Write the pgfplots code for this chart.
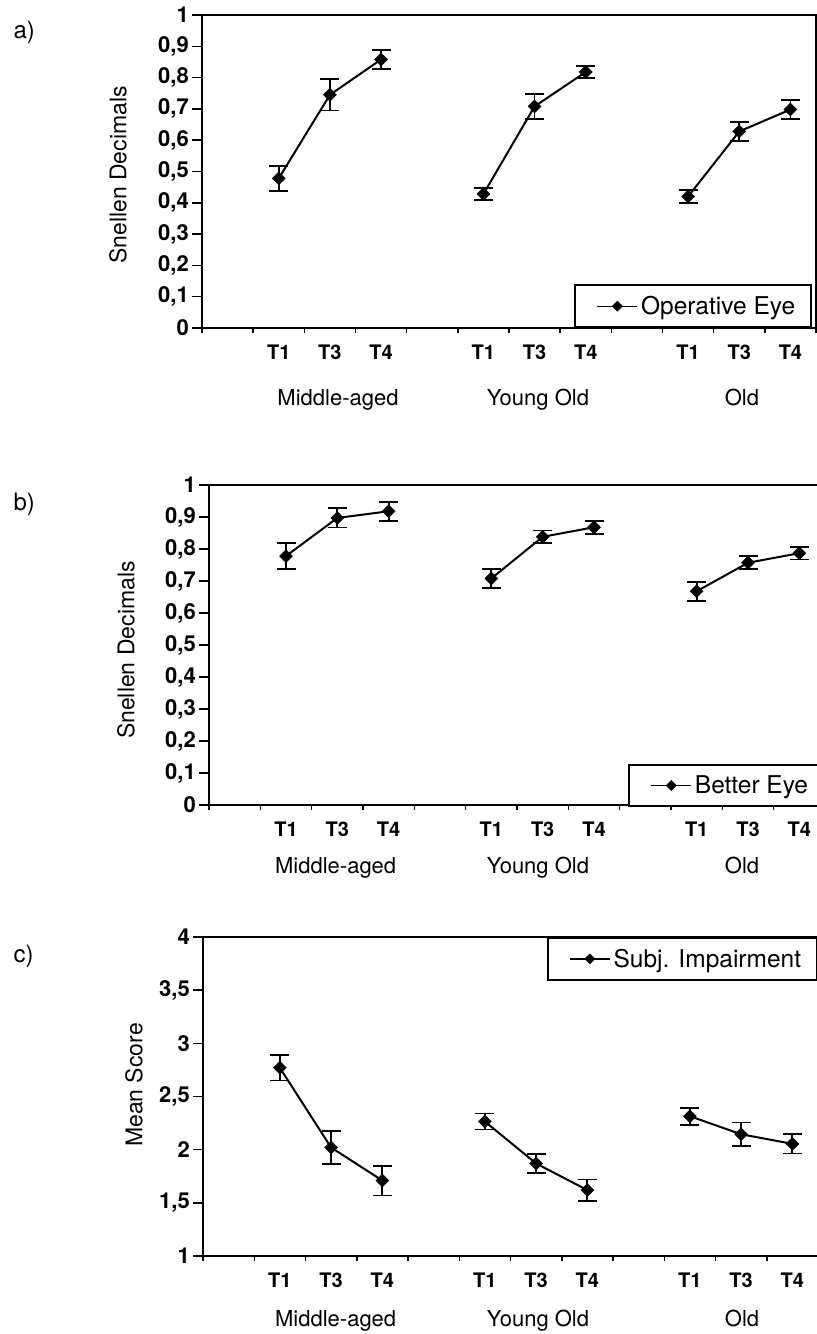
\documentclass[border=0pt]{standalone}
\usepackage{fontspec}
\setmainfont{TeX Gyre Heros}
\usepackage{pgfplots}
\usepackage{pgfplotstable}
\pgfplotsset{compat=1.18}

% columns: category position, mean, standard error
\pgfplotstableread{
x    y      e
1.5  0.478  0.040
2.5  0.745  0.050
3.5  0.858  0.030
5.5  0.428  0.020
6.5  0.708  0.040
7.5  0.818  0.020
9.5  0.420  0.020
10.5 0.628  0.030
11.5 0.698  0.030
}\operative

\pgfplotstableread{
x    y      e
1.5  0.778  0.040
2.5  0.897  0.030
3.5  0.918  0.030
5.5  0.708  0.030
6.5  0.838  0.020
7.5  0.868  0.020
9.5  0.668  0.030
10.5 0.757  0.020
11.5 0.787  0.020
}\better

\pgfplotstableread{
x    y      e
1.5  2.770  0.120
2.5  2.020  0.155
3.5  1.710  0.140
5.5  2.265  0.075
6.5  1.870  0.090
7.5  1.620  0.100
9.5  2.315  0.080
10.5 2.145  0.110
11.5 2.055  0.090
}\subjective

\tikzset{grouplabel/.style={font=\fontsize{22}{25}\selectfont, anchor=base}}

\pgfplotsset{
  panel/.style={
    scale only axis,
    clip=false,
    xmin=0, xmax=12,
    xtick={1.5,2.5,3.5,5.5,6.5,7.5,9.5,10.5,11.5},
    xticklabels={T1,T3,T4,T1,T3,T4,T1,T3,T4},
    minor xtick={0,1,...,12},
    every major x tick/.append style={draw=none},
    major tick length=10pt,
    minor tick length=5pt,
    tick align=outside,
    tick pos=left,
    axis line style={line width=2.5pt},
    tick style={line width=1.5pt, black},
    xticklabel style={font=\fontsize{20}{23}\selectfont\bfseries, anchor=base, yshift=-21pt},
    yticklabel style={font=\fontsize{22}{25}\selectfont\bfseries, inner sep=3pt},
    ylabel style={font=\fontsize{23}{26}\selectfont, anchor=center},
    /pgf/number format/.cd, use comma, assume math mode=true,
    /pgfplots/.cd,
    legend style={draw=black, line width=1.8pt, fill=white,
      font=\fontsize{24.5}{28}\selectfont,
      inner xsep=13pt, inner ysep=8pt,
      nodes={inner sep=3pt},
      /tikz/every even column/.append style={column sep=4pt}},
    legend cell align=left,
    legend image code/.code={%
      \path (0pt,0pt);
      \draw[mark repeat=2, mark phase=2, ##1, line width=1.4pt, mark size=3.6pt]
        plot coordinates {(8pt,0pt) (28pt,0pt) (48pt,0pt)};},
  },
  series/.style={black, line width=2pt, mark=square*, mark size=4.6pt,
    mark options={rotate=45, solid, line width=0.4pt, fill=black},
    error bars/.cd, y dir=both, y explicit,
    error bar style={line width=1.8pt, black},
    error mark options={rotate=90, mark size=9.5pt, line width=1.8pt, black},
    /pgfplots/.cd},
}

\begin{document}
\begin{tikzpicture}

% a) operative eye
\begin{axis}[panel,
  at={(202pt,-328pt)}, anchor=south west,
  width=614pt, height=313pt,
  ymin=0, ymax=1,
  ytick={0,0.1,0.2,0.3,0.4,0.5,0.6,0.7,0.8,0.9,1},
  ylabel={Snellen Decimals},
  ylabel style={at={(axis description cs:-0.1368,0.489)}},
  legend style={at={(1,0)}, anchor=south east, xshift=-4pt},
]
\addplot[series, restrict x to domain=1:4] table[x=x, y=y, y error=e] {\operative};
\addlegendentry{Operative Eye}
\addplot[series, restrict x to domain=5:8, forget plot] table[x=x, y=y, y error=e] {\operative};
\addplot[series, restrict x to domain=9:12, forget plot] table[x=x, y=y, y error=e] {\operative};
\node[grouplabel, yshift=-77pt] at (axis cs:2.658,0) {Middle-aged};
\node[grouplabel, yshift=-77pt] at (axis cs:6.566,0) {Young Old};
\node[grouplabel, yshift=-77pt] at (axis cs:10.553,0) {Old};
\end{axis}

% b) better eye
\begin{axis}[panel,
  at={(209pt,-805pt)}, anchor=south west,
  width=616pt, height=320pt,
  ymin=0, ymax=1,
  ytick={0,0.1,0.2,0.3,0.4,0.5,0.6,0.7,0.8,0.9,1},
  ylabel={Snellen Decimals},
  ylabel style={at={(axis description cs:-0.1347,0.484)}},
  legend style={at={(1,0)}, anchor=south east, yshift=-2pt},
]
\addplot[series, restrict x to domain=1:4] table[x=x, y=y, y error=e] {\better};
\addlegendentry{Better Eye}
\addplot[series, restrict x to domain=5:8, forget plot] table[x=x, y=y, y error=e] {\better};
\addplot[series, restrict x to domain=9:12, forget plot] table[x=x, y=y, y error=e] {\better};
\node[grouplabel, yshift=-68pt] at (axis cs:2.468,0) {Middle-aged};
\node[grouplabel, yshift=-68pt] at (axis cs:6.409,0) {Young Old};
\node[grouplabel, yshift=-68pt] at (axis cs:10.384,0) {Old};
\end{axis}

% c) subjective impairment
\begin{axis}[panel,
  at={(203pt,-1256pt)}, anchor=south west,
  width=615pt, height=319pt,
  ymin=1, ymax=4,
  ytick={1,1.5,2,2.5,3,3.5,4},
  ylabel={Mean Score},
  ylabel style={at={(axis description cs:-0.1122,0.536)}},
  legend style={at={(1,1)}, anchor=north east},
]
\addplot[series, restrict x to domain=1:4] table[x=x, y=y, y error=e] {\subjective};
\addlegendentry{Subj. Impairment}
\addplot[series, restrict x to domain=5:8, forget plot] table[x=x, y=y, y error=e] {\subjective};
\addplot[series, restrict x to domain=9:12, forget plot] table[x=x, y=y, y error=e] {\subjective};
\node[grouplabel, yshift=-70pt] at (axis cs:2.589,1) {Middle-aged};
\node[grouplabel, yshift=-70pt] at (axis cs:6.537,1) {Young Old};
\node[grouplabel, yshift=-70pt] at (axis cs:10.517,1) {Old};
\end{axis}

% panel letters
\node[anchor=base west, font=\fontsize{24}{27}\selectfont] at (10pt,-38pt) {a)};
\node[anchor=base west, font=\fontsize{24}{27}\selectfont] at (10pt,-510pt) {b)};
\node[anchor=base west, font=\fontsize{24}{27}\selectfont] at (10pt,-962pt) {c)};

\pgfresetboundingbox
\path[use as bounding box] (0,0) rectangle (817pt,-1334pt);
\end{tikzpicture}
\end{document}
